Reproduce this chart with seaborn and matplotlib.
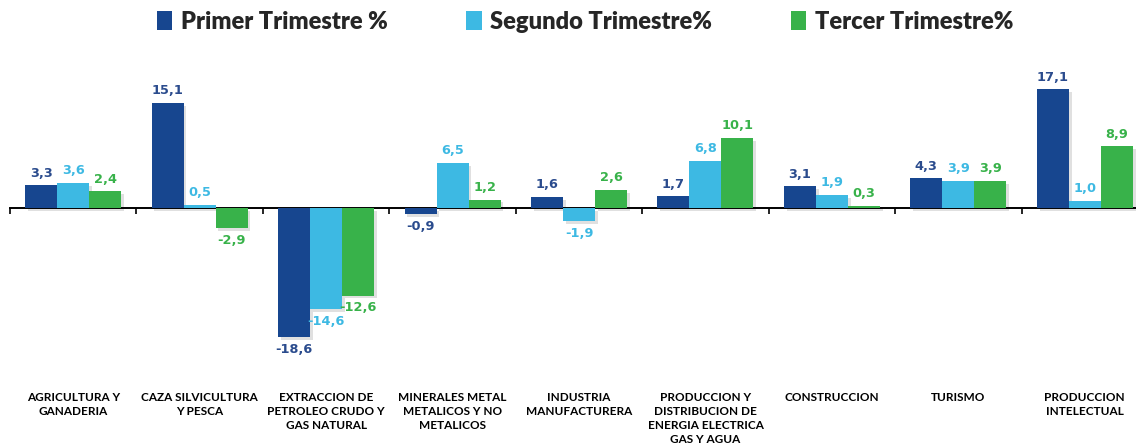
import matplotlib
matplotlib.use("Agg")
import matplotlib.pyplot as plt
import matplotlib.patheffects as pe
from matplotlib.patches import Patch
import seaborn as sns
import pandas as pd

categories = [
    "AGRICULTURA Y\nGANADERIA",
    "CAZA SILVICULTURA\nY PESCA",
    "EXTRACCION DE\nPETROLEO CRUDO Y\nGAS NATURAL",
    "MINERALES METAL\nMETALICOS Y NO\nMETALICOS",
    "INDUSTRIA\nMANUFACTURERA",
    "PRODUCCION Y\nDISTRIBUCION DE\nENERGIA ELECTRICA\nGAS Y AGUA",
    "CONSTRUCCION",
    "TURISMO",
    "PRODUCCION\nINTELECTUAL",
]
series_names = ["Primer Trimestre %", "Segundo Trimestre%", "Tercer Trimestre%"]
primer = [3.3, 15.1, -18.6, -0.9, 1.6, 1.7, 3.1, 4.3, 17.1]
segundo = [3.6, 0.5, -14.6, 6.5, -1.9, 6.8, 1.9, 3.9, 1.0]
tercer = [2.4, -2.9, -12.6, 1.2, 2.6, 10.1, 0.3, 3.9, 8.9]

bar_colors = ["#17468F", "#3DB9E3", "#38B24A"]
label_colors = ["#2A4B8D", "#3DB9E3", "#38B24A"]

rows = []
for name, vals in zip(series_names, [primer, segundo, tercer]):
    for c, v in zip(categories, vals):
        rows.append({"cat": c, "serie": name, "val": v})
df = pd.DataFrame(rows)

sns.set_style("white")
plt.rcParams["font.family"] = ["DejaVu Sans"]

W, H = 1136, 445
fig = plt.figure(figsize=(W / 100, H / 100), dpi=100)
left_px, right_px = 10, 1148
ymin, ymax = -20.5, 19.0
zero_px_from_top = 208
ppu = 6.95
bottom_px = (H - zero_px_from_top) + ymin * ppu
top_px = (H - zero_px_from_top) + ymax * ppu
ax = fig.add_axes([left_px / W, bottom_px / H, (right_px - left_px) / W, (top_px - bottom_px) / H])

sns.barplot(data=df, x="cat", y="val", hue="serie", order=categories,
            hue_order=series_names, palette=bar_colors, width=0.76,
            ax=ax, legend=False, saturation=1, linewidth=0)

ax.set_ylim(ymin, ymax)
ax.set_xlim(-0.5, len(categories) - 0.5)

shadow = [pe.SimplePatchShadow(offset=(2, -2), shadow_rgbFace="#000000", alpha=0.12), pe.Normal()]
for i, cont in enumerate(ax.containers):
    for p in cont:
        p.set_path_effects(shadow)
    labels = [f"{p.get_height():.1f}".replace(".", ",") for p in cont]
    ax.bar_label(cont, labels=labels, padding=4, color=label_colors[i],
                 fontsize=9.3, fontweight="bold", family="DejaVu Sans")

for s in ["top", "right", "left"]:
    ax.spines[s].set_visible(False)
ax.spines["bottom"].set_position(("data", 0))
ax.spines["bottom"].set_color("black")
ax.spines["bottom"].set_linewidth(1.4)
ax.spines["bottom"].set_zorder(0.5)
ax.set_yticks([])
ax.set_xticks([i - 0.5 for i in range(len(categories) + 1)])
ax.set_xticklabels([])
ax.tick_params(axis="x", direction="out", length=4, width=1.2, color="black", bottom=True)
ax.set_xlabel("")
ax.set_ylabel("")

for i, c in enumerate(categories):
    ax.text(i, (H - 392 - bottom_px) / (top_px - bottom_px), c,
            transform=ax.get_xaxis_transform(), ha="center", va="top",
            fontsize=8.5, fontweight="bold", family="Lato", linespacing=1.32,
            color="black", clip_on=False)

handles = [Patch(facecolor=c, edgecolor="none") for c in bar_colors]
leg = fig.legend(handles, series_names, loc="center", bbox_to_anchor=(585 / W, 1 - 22 / H),
                 ncol=3, frameon=False, handlelength=0.65, handleheight=0.85,
                 handletextpad=0.35, columnspacing=3.35,
                 prop={"family": "Lato", "weight": "heavy", "size": 17})

fig.savefig("out.png", dpi=100)
